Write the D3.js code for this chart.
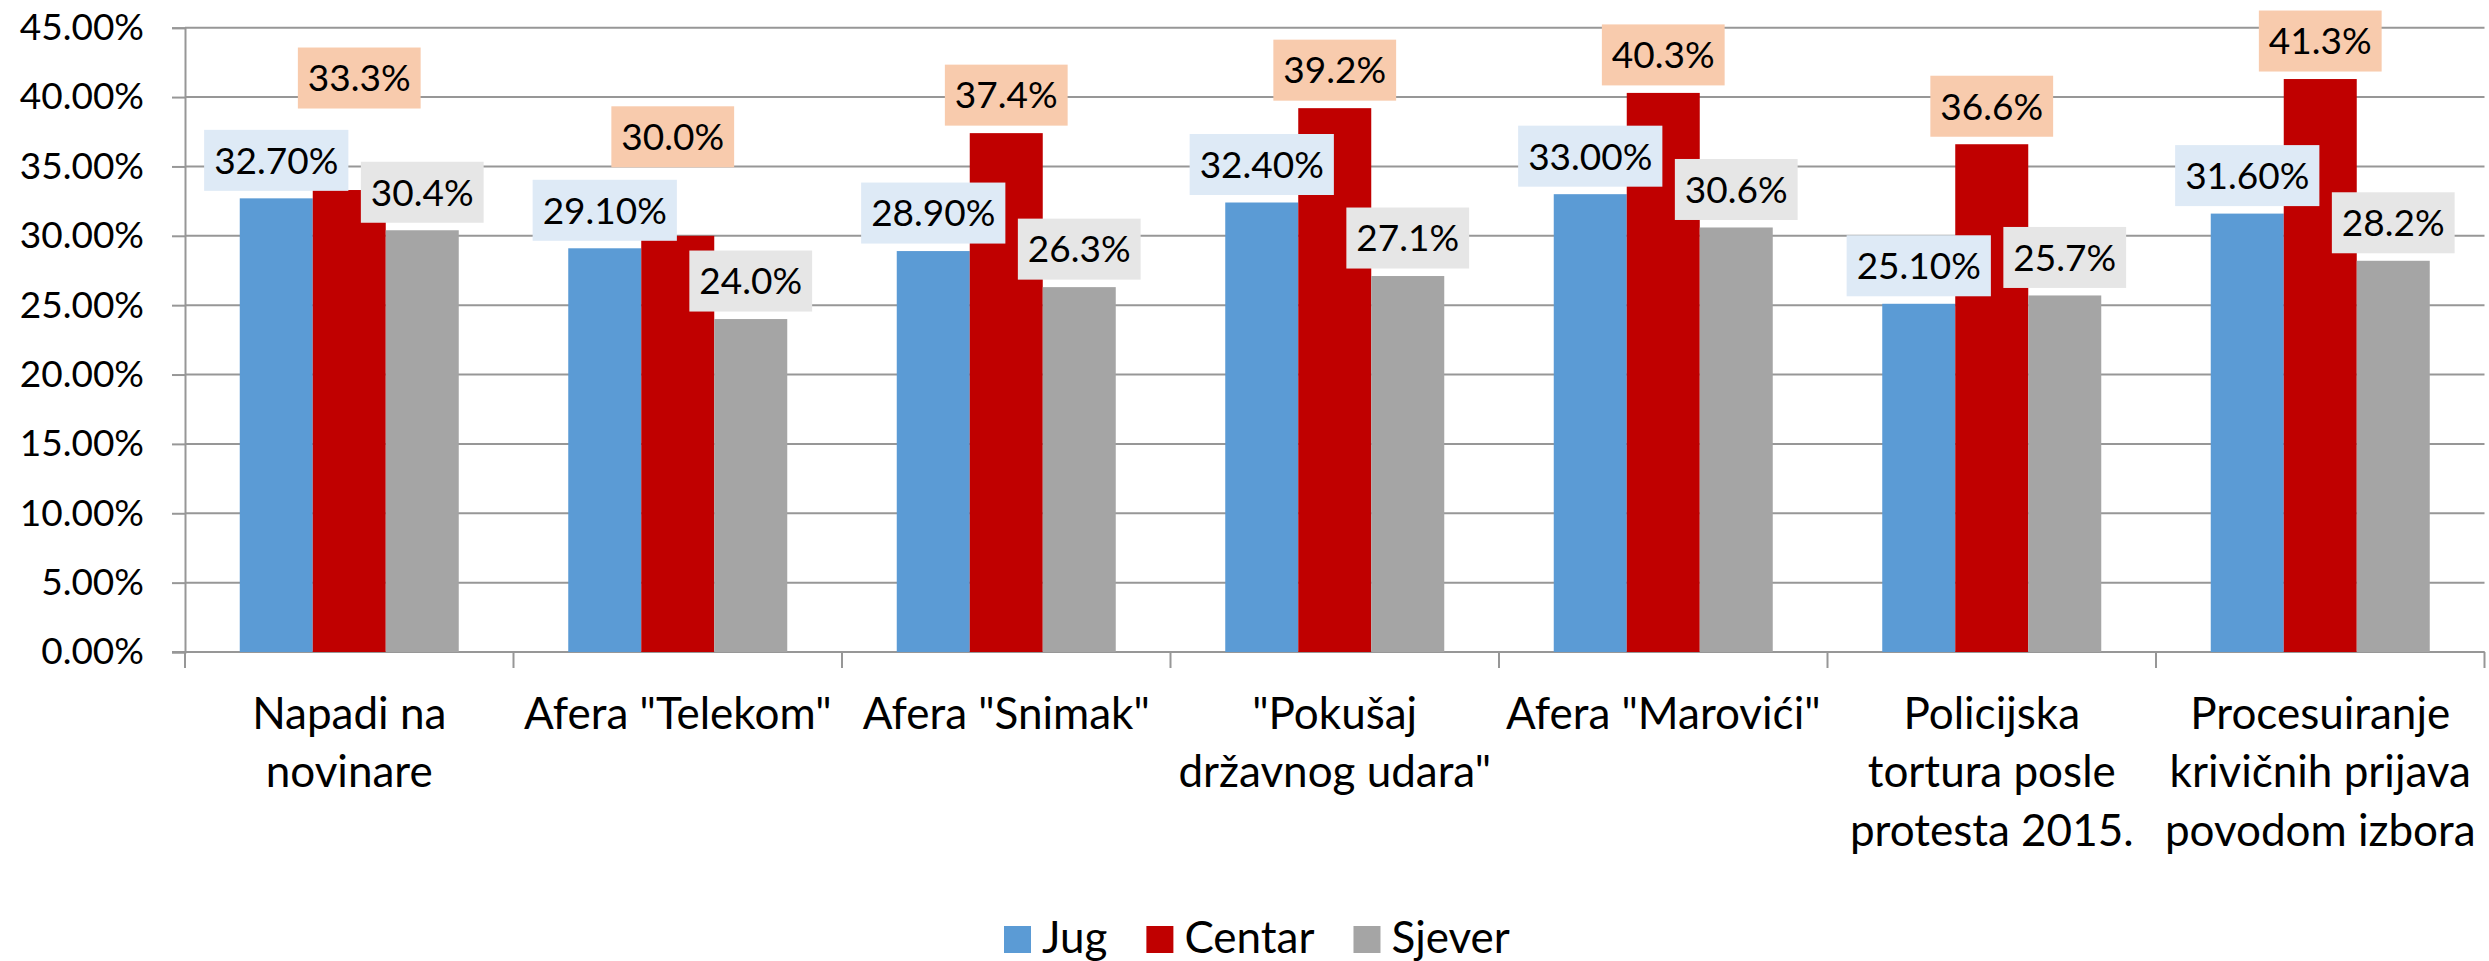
<!DOCTYPE html>
<html>
<head>
<meta charset="utf-8">
<script src="https://cdn.jsdelivr.net/npm/d3@7"></script>
<style>
  body { margin: 0; background: #fff; }
  text { font-family: Lato, "Open Sans", sans-serif; fill: #000; }
</style>
</head>
<body>
<div id="chart"></div>
<script>
// chart values
let categories = [
  "Napadi na\nnovinare",
  "Afera \"Telekom\"",
  "Afera \"Snimak\"",
  "\"Pokušaj\ndržavnog udara\"",
  "Afera \"Marovići\"",
  "Policijska\ntortura posle\nprotesta 2015.",
  "Procesuiranje\nkrivičnih prijava\npovodom izbora"
];
let series = ["Jug", "Centar", "Sjever"];
let jug    = [32.7, 29.1, 28.9, 32.4, 33.0, 25.1, 31.6];
let centar = [33.3, 30.0, 37.4, 39.2, 40.3, 36.6, 41.3];
let sjever = [30.4, 24.0, 26.3, 27.1, 30.6, 25.7, 28.2];
let y_ticks = [0, 5, 10, 15, 20, 25, 30, 35, 40, 45];

let colors = { "Jug": "#5B9BD5", "Centar": "#C00000", "Sjever": "#A5A5A5" };
let label_bg = { "Jug": "#DEEAF6", "Centar": "#F8CBAD", "Sjever": "#E6E6E6" };
let label_fmt = { "Jug": d3.format(".2f"), "Centar": d3.format(".1f"), "Sjever": d3.format(".1f") };

// a couple of labels were dragged by hand in the original (category index -> [dx, dy])
let centar_nudge = { 0: [10, -74], 1: [-5, -61] };

let width = 2489;
let height = 961;
let plot = { left: 185, right: 2484.5, top: 27.7, bottom: 652 };

let svg = d3.select("#chart")
  .append("svg")
    .attr("width", width)
    .attr("height", height);

let x0 = d3.scaleBand()
  .domain(categories)
  .range([plot.left, plot.right]);

let bw = x0.bandwidth();
let gap = bw * 1.5 / 4.5;

let x1 = d3.scaleBand()
  .domain(series)
  .range([gap / 2, bw - gap / 2]);

let y = d3.scaleLinear()
  .domain([0, 45])
  .range([plot.bottom, plot.top]);

let rows = categories.map(function (c, i) {
  return { cat: c, idx: i, values: { "Jug": jug[i], "Centar": centar[i], "Sjever": sjever[i] } };
});

// gridlines
svg.append("g")
  .selectAll("line")
  .data(y_ticks)
  .join("line")
    .attr("x1", plot.left)
    .attr("x2", plot.right)
    .attr("y1", d => y(d))
    .attr("y2", d => y(d))
    .attr("stroke", "#979797")
    .attr("stroke-width", 2);

// y axis
let y_axis = svg.append("g")
  .attr("transform", "translate(" + plot.left + ",0)")
  .call(d3.axisLeft(y)
    .tickValues(y_ticks)
    .tickSize(13)
    .tickPadding(28)
    .tickFormat(d => d3.format(".2f")(d) + "%"));

y_axis.select(".domain").attr("stroke", "#979797").attr("stroke-width", 2);
y_axis.selectAll(".tick line").attr("stroke", "#979797").attr("stroke-width", 2);
y_axis.selectAll(".tick text")
  .attr("font-size", 37)
  .attr("fill", "#000")
  .style("font-family", "Lato, sans-serif");

// x axis baseline and category separators
let x_axis = svg.append("g");
x_axis.append("line")
  .attr("x1", plot.left - 13)
  .attr("x2", plot.right)
  .attr("y1", y(0))
  .attr("y2", y(0))
  .attr("stroke", "#979797")
  .attr("stroke-width", 2);

let seps = categories.map(c => x0(c)).concat([x0(categories[categories.length - 1]) + bw]);
x_axis.selectAll("line.sep")
  .data(seps)
  .join("line")
    .attr("class", "sep")
    .attr("x1", d => d)
    .attr("x2", d => d)
    .attr("y1", y(0))
    .attr("y2", y(0) + 16)
    .attr("stroke", "#979797")
    .attr("stroke-width", 2);

// category labels
let cat_labels = x_axis.selectAll("text.cat")
  .data(categories)
  .join("text")
    .attr("class", "cat")
    .attr("text-anchor", "middle")
    .attr("font-size", 44)
    .attr("x", d => x0(d) + bw / 2)
    .attr("y", 729);

cat_labels.each(function (d) {
  let lines = d.split("\n");
  d3.select(this).selectAll("tspan")
    .data(lines)
    .join("tspan")
      .attr("x", x0(d) + bw / 2)
      .attr("dy", (l, i) => i === 0 ? 0 : 58.3)
      .text(l => l);
});

// bars
let groups = svg.append("g")
  .selectAll("g")
  .data(rows)
  .join("g")
    .attr("transform", d => "translate(" + x0(d.cat) + ",0)");

groups.selectAll("rect")
  .data(d => series.map(s => ({ s: s, v: d.values[s] })))
  .join("rect")
    .attr("x", d => x1(d.s))
    .attr("width", x1.bandwidth())
    .attr("y", d => y(d.v))
    .attr("height", d => y(0) - y(d.v))
    .attr("fill", d => colors[d.s]);

// data labels (drawn after all bars so the boxes sit on top)
let label_layer = svg.append("g");
let label_data = [];
rows.forEach(function (r) {
  series.forEach(function (s) {
    label_data.push({ idx: r.idx, cat: r.cat, s: s, v: r.values[s] });
  });
});

let lab = label_layer.selectAll("g")
  .data(label_data)
  .join("g");

lab.each(function (d) {
  let g = d3.select(this);
  let cx = x0(d.cat) + x1(d.s) + x1.bandwidth() / 2;
  let bottom = y(d.v) - 7.5;
  if (d.s === "Centar" && centar_nudge[d.idx]) {
    cx += centar_nudge[d.idx][0];
    bottom += centar_nudge[d.idx][1];
  }
  let box_h = 61;
  let rect = g.append("rect")
    .attr("fill", label_bg[d.s]);
  let t = g.append("text")
    .attr("text-anchor", "middle")
    .attr("font-size", 37)
    .attr("x", cx)
    .attr("y", bottom - box_h / 2)
    .attr("dy", "0.36em")
    .text(label_fmt[d.s](d.v) + "%");
  let tw = t.node().getComputedTextLength();
  let box_w = tw + 20;
  rect
    .attr("x", cx - box_w / 2)
    .attr("y", bottom - box_h)
    .attr("width", box_w)
    .attr("height", box_h);
});

// legend
let legend = svg.append("g").attr("transform", "translate(1004,0)");
let lx = 0;
series.forEach(function (s) {
  legend.append("rect")
    .attr("x", lx)
    .attr("y", 926)
    .attr("width", 27)
    .attr("height", 27)
    .attr("fill", colors[s]);
  let t = legend.append("text")
    .attr("x", lx + 38)
    .attr("y", 953)
    .attr("font-size", 44)
    .text(s);
  lx += 38 + t.node().getComputedTextLength() + 39;
});
</script>
</body>
</html>
